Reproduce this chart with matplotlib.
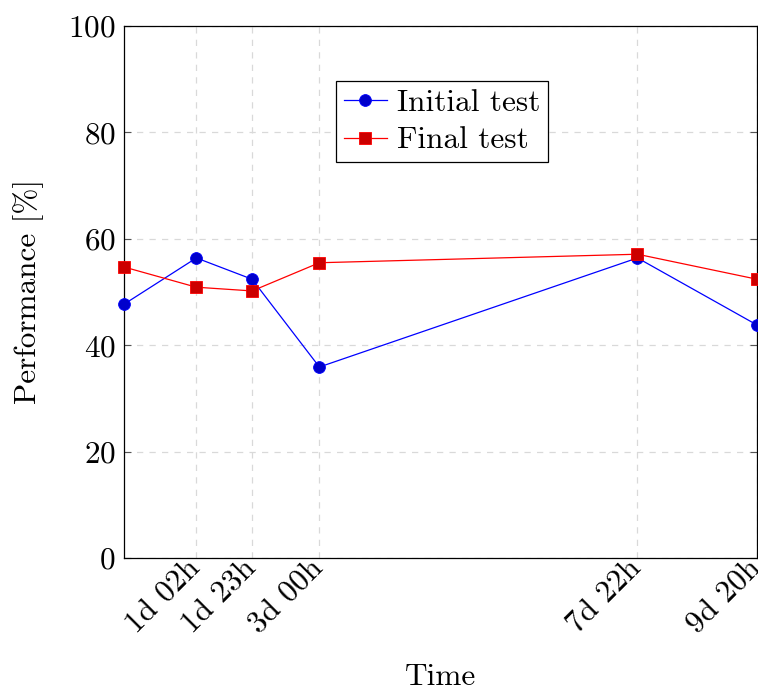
import numpy as np
import matplotlib
matplotlib.use('Agg')
import matplotlib.pyplot as plt

# elapsed time in hours since the first test
hours = [0.0, 27.0, 47.8, 72.9, 191.6, 236.2]
tick_hours = [27.0, 47.8, 72.9, 191.6, 236.2]
tick_labels = ['1d 02h', '1d 23h', '3d 00h', '7d 22h', '9d 20h']

initial_test = [47.7, 56.4, 52.4, 35.9, 56.4, 43.8]
final_test = [54.7, 50.9, 50.2, 55.5, 57.1, 52.4]

FS = 22.5


def main():
    plt.rcParams['font.family'] = 'serif'
    plt.rcParams['font.serif'] = ['cmr10', 'DejaVu Serif']
    plt.rcParams['mathtext.fontset'] = 'cm'
    plt.rcParams['axes.unicode_minus'] = False
    plt.rcParams['axes.formatter.use_mathtext'] = True

    fig = plt.figure(figsize=(7.58, 6.88), dpi=100)
    ax = fig.add_axes([124/758, 1-558/688, 633/758, 532/688])

    ax.plot(hours, initial_test, '-o', color='blue', lw=0.9, ms=8.5,
            mfc=(0, 0, 0.8), mec='blue', mew=0.6, label='Initial test', clip_on=False, zorder=3)
    ax.plot(hours, final_test, '-s', color='red', lw=0.9, ms=8.5,
            mfc=(0.8, 0, 0), mec='red', mew=0.6, label='Final test', clip_on=False, zorder=3)

    ax.set_xlim(hours[0], hours[-1])
    ax.set_ylim(0, 100)
    ax.set_yticks([0, 20, 40, 60, 80, 100])
    ax.set_xticks(tick_hours)
    ax.set_xticklabels(tick_labels, rotation=45, ha='right', va='center',
                       rotation_mode='anchor')

    ax.grid(True, color='#d9d9d9', linestyle=(0, (5, 5)), lw=0.9)
    ax.tick_params(axis='both', direction='in', length=5, color='#555555', labelsize=FS,
                   right=True, top=False)
    ax.tick_params(axis='x', length=0, pad=4)
    ax.tick_params(axis='y', pad=6)
    for sp in ax.spines.values():
        sp.set_linewidth(0.9)

    ax.set_xlabel('Time', fontsize=FS)
    ax.xaxis.set_label_coords(0.5, -0.197)
    ax.set_ylabel('Performance [%]', fontsize=FS, labelpad=17)

    leg = ax.legend(loc='upper center', bbox_to_anchor=(0.502, 0.897), fontsize=FS,
                    fancybox=False, edgecolor='black', framealpha=1, borderaxespad=0,
                    handlelength=1.4, handletextpad=0.3, borderpad=0.25, labelspacing=0.32)
    leg.get_frame().set_linewidth(0.9)

    fig.savefig('out.png', dpi=100)


if __name__ == '__main__':
    main()
